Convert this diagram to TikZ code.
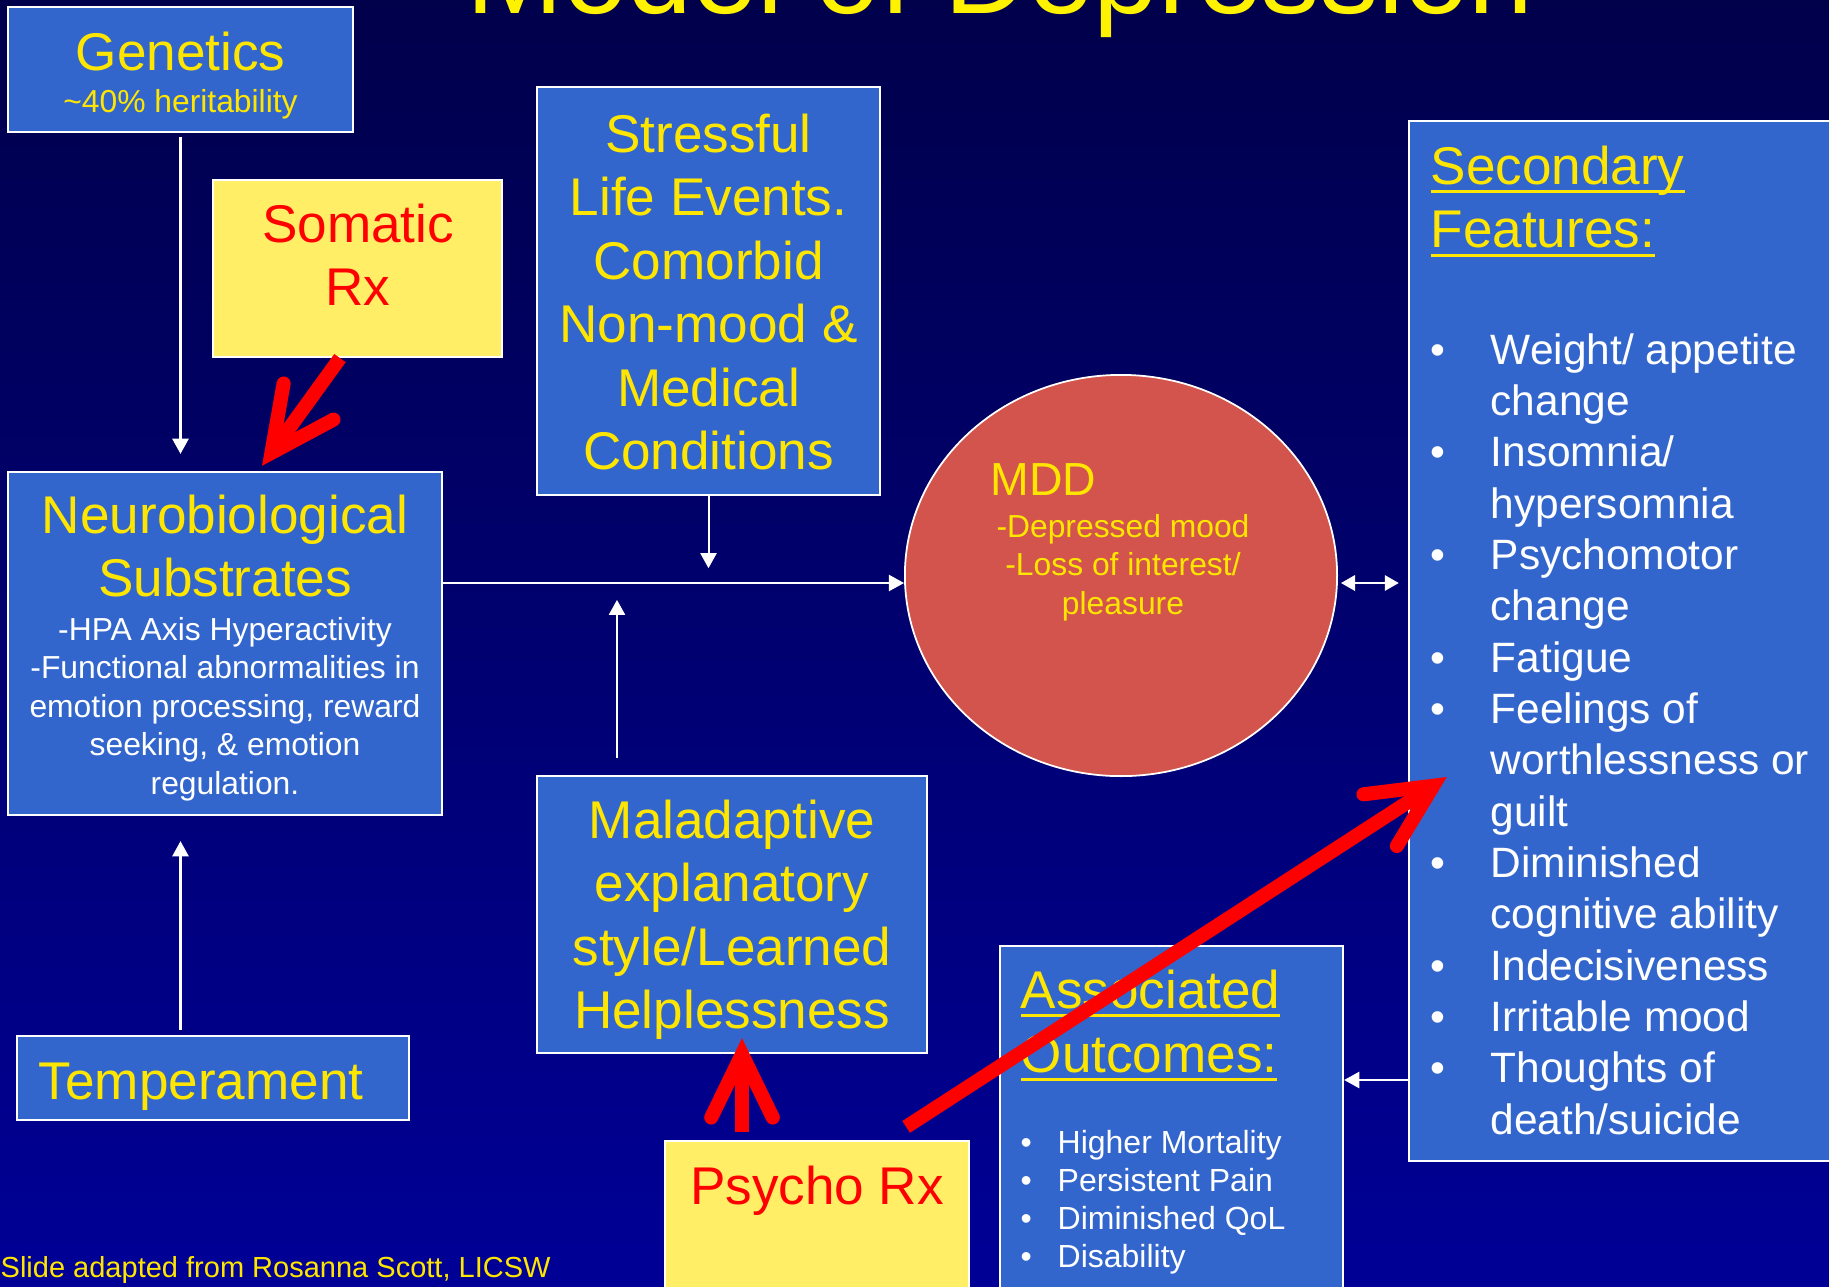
\documentclass[tikz,border=0pt]{standalone}
\usepackage{fontspec}
\setmainfont{Liberation Sans}
\usetikzlibrary{arrows.meta,shapes.geometric,calc}

\definecolor{bgtop}{RGB}{0,0,75}
\definecolor{bgbot}{RGB}{0,0,150}
\definecolor{boxblue}{RGB}{51,102,204}
\definecolor{boxyellow}{RGB}{255,238,102}
\definecolor{txtyellow}{RGB}{255,230,0}
\definecolor{mddred}{RGB}{211,84,76}

\newsavebox{\ulbox}
\newcommand{\uln}[1]{\sbox{\ulbox}{#1}\rlap{\rule[-2.55pt]{\wd\ulbox}{0.85pt}}\usebox{\ulbox}}

\newcommand{\cblock}[1]{\begin{tabular}[t]{@{}c@{}}#1\end{tabular}}
\newcommand{\lblock}[1]{\begin{tabular}[t]{@{}l@{}}#1\end{tabular}}
\newcommand{\bblock}[2]{\begin{tabular}[t]{@{}p{#1}@{}l@{}}#2\end{tabular}}

\tikzset{
  slide/.style={
    box/.style={draw=white, line width=0.6pt, fill=boxblue, inner sep=0pt},
    rxbox/.style={box, fill=boxyellow},
    bigtxt/.style={font=\fontsize{15.1}{18.07}\selectfont, text=txtyellow, inner sep=0pt},
    smalltxt/.style={font=\fontsize{9.05}{10.95}\selectfont, text=white, inner sep=0pt},
    wline/.style={draw=white, line width=0.57pt, -{Triangle[length=4.3pt,width=4.6pt]}},
    rxarrow/.style={
        draw=red,
        line width=4pt,
        -{Straight Barb[length=18pt,width=17.5pt,line cap=round,line join=miter]},
    },
  }
}

\begin{document}
\begin{tikzpicture}[x=0.01cm, y=-0.01cm, slide]
    \useasboundingbox (0,0) rectangle (1829,1287);
    \clip (0,0) rectangle (1829,1287);
    \fill[top color=bgtop, bottom color=bgbot] (0,0) rectangle (1829,1287);

    % title, cut by the top edge
    \node[font=\fontsize{33.1}{40}\selectfont, text=yellow, anchor=base, inner sep=0pt] (title) at (1000,13) {Model of Depression};

    % boxes
    \node[box, minimum width=3.45cm, minimum height=1.25cm] (Gen) at (180.5,69.5) {};
    \node[rxbox, minimum width=2.89cm, minimum height=1.77cm] (Som) at (357.5,268.5) {};
    \node[box, minimum width=4.34cm, minimum height=3.43cm] (Neuro) at (225,643.5) {};
    \node[box, minimum width=3.43cm, minimum height=4.08cm] (Str) at (708.5,291) {};
    \node[box, minimum width=3.90cm, minimum height=2.77cm] (Mal) at (732,914.5) {};
    \node[box, minimum width=3.91cm, minimum height=0.84cm] (Tem) at (213,1078) {};
    \node[rxbox, minimum width=3.04cm, minimum height=1.69cm] (Psy) at (817,1225.5) {};
    \node[ellipse, draw=white, line width=0.5pt, fill=mddred, minimum width=4.32cm, minimum height=4.01cm, inner sep=0pt] (MDD) at (1121,575.5) {};
    \node[box, minimum width=4.41cm, minimum height=10.40cm] (Sec) at (1629.5,641) {};
    \node[box, minimum width=3.43cm, minimum height=3.64cm] (Aso) at (1171.5,1128) {};

    % texts
    \node[bigtxt, anchor=base] (Gen_a) at (180.5,70) {Genetics};
    \node[smalltxt, text=txtyellow, anchor=base] (Gen_b) at (180.5,112) {\textasciitilde 40\% heritability};
    \node[bigtxt, text=red, anchor=base] (Som_a) at (358,242) {\cblock{Somatic\\Rx}};
    \node[bigtxt, anchor=base] (Neuro_a) at (225,533) {\cblock{Neurobiological\\Substrates}};
    \node[smalltxt, anchor=base] (Neuro_b) at (225,640) {\cblock{-HPA Axis Hyperactivity\\-Functional abnormalities in\\emotion processing, reward\\seeking, \& emotion\\regulation.}};
    \node[bigtxt, anchor=base] (Str_a) at (708.5,152) {\cblock{Stressful\\Life Events.\\Comorbid\\Non-mood \&\\Medical\\Conditions}};
    \node[bigtxt, anchor=base] (Mal_a) at (732,838) {\cblock{Maladaptive\\explanatory\\style/Learned\\Helplessness}};
    \node[bigtxt, anchor=base west] (Tem_a) at (38,1099) {Temperament};
    \node[bigtxt, text=red, anchor=base] (Psy_a) at (817,1204) {Psycho Rx};
    \node[font=\fontsize{13.2}{16}\selectfont, text=txtyellow, inner sep=0pt, anchor=base west] (MDD_a) at (990,495) {MDD};
    \node[smalltxt, text=txtyellow, anchor=base] (MDD_b) at (1123,537) {\cblock{-Depressed mood\\-Loss of interest/\\pleasure}};
    \node[bigtxt, anchor=base west] (Sec_a) at (1430,184) {\lblock{\uln{Secondary}\\\uln{Features:}}};
    \node[font=\fontsize{12.07}{14.6}\selectfont, text=white, inner sep=0pt, anchor=base west] (Sec_b) at (1430,364) {\bblock{0.6cm}{
        \textbullet & Weight/ appetite\\
                    & change\\
        \textbullet & Insomnia/\\
                    & hypersomnia\\
        \textbullet & Psychomotor\\
                    & change\\
        \textbullet & Fatigue\\
        \textbullet & Feelings of\\
                    & worthlessness or\\
                    & guilt\\
        \textbullet & Diminished\\
                    & cognitive ability\\
        \textbullet & Indecisiveness\\
        \textbullet & Irritable mood\\
        \textbullet & Thoughts of\\
                    & death/suicide}};
    \node[font=\fontsize{15.1}{18.2}\selectfont, text=txtyellow, inner sep=0pt, anchor=base west] (Aso_a) at (1020,1008) {\lblock{\uln{Associated}\\\uln{Outcomes:}}};
    \node[font=\fontsize{9.1}{10.81}\selectfont, text=white, inner sep=0pt, anchor=base west] (Aso_b) at (1020,1153) {\bblock{0.37cm}{
        \textbullet & Higher Mortality\\
        \textbullet & Persistent Pain\\
        \textbullet & Diminished QoL\\
        \textbullet & Disability}};
    \node[font=\fontsize{8.25}{10}\selectfont, text=txtyellow, inner sep=0pt, anchor=base west] (credit) at (0,1277) {Slide adapted from Rosanna Scott, LICSW};

    % white connectors
    \draw[wline, shorten <=0.04cm, shorten >=0.17cm] (Gen.south) -- (Gen.south |- Neuro.north);
    \draw[wline, shorten <=0.05cm, shorten >=0.25cm] (Tem.north -| Gen.south) -- (Neuro.south -| Gen.south);
    \draw[wline] (Str.south) -- ++(0,72);
    \draw[wline] ($(Mal.north)+(-115,-17)$) -- ++(0,-158);
    \draw[wline] (Neuro.east |- 0,583) -- (MDD.west |- 0,583);
    \draw[wline, {Triangle[length=4pt,width=4.4pt]}-{Triangle[length=4pt,width=4.4pt]}, shorten <=0.03cm, shorten >=0.09cm] (MDD.east |- 0,583) -- (Sec.west |- 0,583);
    \draw[wline] (Sec.west |- 0,1080) -- (Aso.east |- 0,1080);

    % red treatment arrows
    \draw[rxarrow] ($(Som.south)+(-17.5,0)$) -- ($(Neuro.north)+(37,-5)$);
    \draw[rxarrow] ($(Psy.north)+(-75,-8)$) -- ($(Mal.south)+(10,-16)$);
    \draw[rxarrow] ($(Psy.north east)+(-64,-13)$) -- ($(Sec.west)+(39,136)$);
\end{tikzpicture}
\end{document}
